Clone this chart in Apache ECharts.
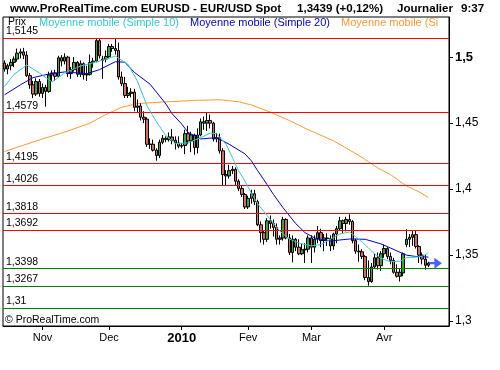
<!DOCTYPE html>
<html><head><meta charset="utf-8">
<script src="https://cdn.jsdelivr.net/npm/echarts@6/dist/echarts.min.js"></script>
<style>html,body{margin:0;padding:0;background:#fff}#c{width:500px;height:370px}</style>
</head><body><div id="c"></div>
<script>
// ---- categories: trading days (weekdays) Oct 15 2009 .. Apr 29 2010 (last 6 empty) ----
const dates = [];
(function(){ let t = Date.UTC(2009,9,15); const end = Date.UTC(2010,3,29);
  while (t <= end) { const d = new Date(t); const w = d.getUTCDay(); if (w !== 0 && w !== 6) dates.push(d.toISOString().slice(0,10)); t += 86400000; } })();

const tickDates  = ['2009-11-02','2009-12-01','2010-01-01','2010-02-01','2010-03-01','2010-04-01'];
const tickLabels = ['Nov','Dec','2010','Fev','Mar','Avr'];
const yTicks = [1.3, 1.35, 1.4, 1.45, 1.5];

// ---- OHLC ----
const opens = [
1.4955,1.4910,1.4935,1.4960,1.4985,1.5030,1.5040,1.5015,1.4860,1.4790,
1.4720,1.4815,1.4725,1.4770,1.4740,1.4865,1.4880,1.4855,1.4995,1.4970,
1.5000,1.4875,1.4905,1.4960,1.4870,1.4950,1.4865,1.4870,1.4960,1.4970,
1.5125,1.4975,1.4985,1.5005,1.5080,1.5065,1.5050,1.4850,1.4800,1.4710,
1.4725,1.4735,1.4620,1.4630,1.4545,1.4530,1.4340,1.4340,1.4295,1.4255,
1.4355,1.4385,1.4375,1.4395,1.4370,1.4350,1.4325,1.4330,1.4420,1.4365,
1.4410,1.4315,1.4410,1.4510,1.4500,1.4520,1.4500,1.4380,1.4390,1.4290,
1.4110,1.4100,1.4140,1.4150,1.4060,1.4005,1.3960,1.3865,1.3930,1.3965,
1.3905,1.3730,1.3670,1.3620,1.3760,1.3740,1.3710,1.3620,1.3630,1.3770,
1.3630,1.3520,1.3620,1.3560,1.3510,1.3540,1.3545,1.3630,1.3560,1.3620,
1.3670,1.3610,1.3630,1.3625,1.3570,1.3660,1.3700,1.3760,1.3740,1.3770,
1.3755,1.3610,1.3530,1.3525,1.3490,1.3330,1.3300,1.3410,1.3480,1.3420,
1.3510,1.3550,1.3490,1.3460,1.3370,1.3340,1.3365,1.3580,1.3620,1.3635,
1.3655,1.3565,1.3500,1.3470,1.3423];
const closes = [
1.4910,1.4935,1.4960,1.4985,1.5030,1.5040,1.5015,1.4860,1.4790,1.4720,
1.4815,1.4725,1.4770,1.4740,1.4865,1.4880,1.4855,1.4995,1.4970,1.5000,
1.4875,1.4905,1.4960,1.4870,1.4950,1.4865,1.4870,1.4960,1.4970,1.5125,
1.5010,1.4985,1.5005,1.5080,1.5065,1.5050,1.4850,1.4800,1.4710,1.4725,
1.4735,1.4620,1.4630,1.4545,1.4530,1.4340,1.4340,1.4295,1.4255,1.4355,
1.4385,1.4375,1.4395,1.4370,1.4350,1.4325,1.4330,1.4420,1.4365,1.4410,
1.4315,1.4410,1.4510,1.4500,1.4520,1.4500,1.4380,1.4390,1.4290,1.4110,
1.4100,1.4140,1.4150,1.4060,1.4005,1.3960,1.3865,1.3930,1.3965,1.3905,
1.3730,1.3670,1.3620,1.3760,1.3740,1.3710,1.3620,1.3630,1.3770,1.3630,
1.3520,1.3620,1.3560,1.3510,1.3540,1.3545,1.3630,1.3560,1.3620,1.3670,
1.3610,1.3630,1.3625,1.3570,1.3660,1.3700,1.3760,1.3740,1.3770,1.3755,
1.3610,1.3530,1.3525,1.3490,1.3330,1.3300,1.3410,1.3480,1.3420,1.3510,
1.3550,1.3490,1.3460,1.3370,1.3340,1.3370,1.3510,1.3620,1.3635,1.3655,
1.3565,1.3500,1.3470,1.3423,1.3439];
const lows = [
1.4890,1.4870,1.4900,1.4925,1.4965,1.4990,1.4985,1.4850,1.4760,1.4690,
1.4705,1.4700,1.4690,1.4625,1.4730,1.4815,1.4820,1.4850,1.4930,1.4945,
1.4850,1.4835,1.4890,1.4850,1.4850,1.4830,1.4820,1.4860,1.4920,1.4960,
1.4990,1.4835,1.4960,1.4990,1.5040,1.5020,1.4830,1.4780,1.4690,1.4690,
1.4695,1.4590,1.4580,1.4520,1.4500,1.4320,1.4305,1.4285,1.4215,1.4235,
1.4340,1.4355,1.4360,1.4340,1.4300,1.4310,1.4310,1.4265,1.4340,1.4280,
1.4260,1.4270,1.4400,1.4450,1.4440,1.4460,1.4360,1.4355,1.4270,1.4025,
1.4030,1.4080,1.4115,1.4030,1.3985,1.3940,1.3850,1.3850,1.3890,1.3880,
1.3720,1.3595,1.3580,1.3600,1.3700,1.3640,1.3580,1.3580,1.3610,1.3620,
1.3500,1.3445,1.3530,1.3500,1.3500,1.3440,1.3520,1.3440,1.3520,1.3590,
1.3560,1.3530,1.3570,1.3530,1.3540,1.3590,1.3690,1.3660,1.3680,1.3730,
1.3590,1.3510,1.3450,1.3470,1.3310,1.3268,1.3290,1.3400,1.3390,1.3380,
1.3480,1.3470,1.3430,1.3360,1.3330,1.3300,1.3340,1.3560,1.3560,1.3570,
1.3550,1.3440,1.3430,1.3390,1.3410];
const highs = [
1.4975,1.4950,1.4985,1.5005,1.5065,1.5065,1.5070,1.5045,1.4880,1.4820,
1.4840,1.4835,1.4800,1.4790,1.4890,1.4900,1.4905,1.5010,1.5015,1.5030,
1.5010,1.4925,1.5000,1.4970,1.4975,1.4960,1.4935,1.5020,1.4995,1.5145,
1.5140,1.5010,1.5050,1.5100,1.5100,1.5145,1.5110,1.4890,1.4850,1.4775,
1.4765,1.4760,1.4680,1.4650,1.4590,1.4545,1.4385,1.4375,1.4310,1.4375,
1.4410,1.4400,1.4430,1.4455,1.4400,1.4400,1.4350,1.4450,1.4480,1.4435,
1.4420,1.4460,1.4535,1.4550,1.4580,1.4565,1.4510,1.4425,1.4420,1.4310,
1.4145,1.4185,1.4175,1.4165,1.4075,1.4030,1.3970,1.3950,1.3995,1.3995,
1.3920,1.3755,1.3690,1.3780,1.3800,1.3770,1.3740,1.3650,1.3790,1.3780,
1.3660,1.3650,1.3630,1.3620,1.3590,1.3590,1.3650,1.3650,1.3650,1.3720,
1.3700,1.3660,1.3665,1.3650,1.3670,1.3720,1.3790,1.3770,1.3790,1.3810,
1.3765,1.3625,1.3580,1.3545,1.3500,1.3460,1.3440,1.3510,1.3520,1.3530,
1.3580,1.3560,1.3520,1.3480,1.3430,1.3400,1.3520,1.3695,1.3660,1.3690,
1.3690,1.3575,1.3520,1.3500,1.3450];

// ---- moving averages: [category index, value] ----
const ma10 = [[0,1.4778],[3,1.487],[7,1.4940],[11,1.4880],[15,1.4812],[19,1.4880],[24,1.4932],[30,1.4970],[35,1.5008],[39,1.4945],[42,1.4818],[45,1.4632],[48,1.4510],[51,1.4405],[54,1.4345],[58,1.4350],[62,1.4390],[65,1.4425],[67,1.4420],[70,1.4340],[72,1.4240],[74,1.4140],[76,1.4060],[78,1.3970],[80,1.3890],[84,1.3770],[87,1.3683],[90,1.3622],[93,1.3592],[97,1.3570],[100,1.3580],[103,1.3620],[106,1.3660],[109,1.3675],[111,1.3640],[113,1.3600],[115,1.3554],[117,1.3510],[119,1.3475],[122,1.3450],[125,1.3454],[127,1.3480],[130,1.3485],[132,1.3490],[134,1.3517]];
const ma20 = [[0,1.4715],[5,1.4790],[9,1.4845],[14,1.4872],[19,1.4888],[26,1.4875],[30,1.4905],[35,1.4965],[38,1.4962],[41,1.4885],[46,1.4795],[51,1.4645],[53,1.4570],[56,1.4493],[58,1.4430],[62,1.4380],[67,1.4390],[71,1.4340],[76,1.4267],[78,1.4215],[80,1.4140],[82,1.4070],[85,1.3960],[88,1.3860],[92,1.3740],[95,1.3670],[98,1.3630],[103,1.3607],[109,1.3622],[114,1.3620],[119,1.3585],[122,1.3554],[127,1.3500],[130,1.3490],[134,1.3485]];
const ma100 = [[0,1.4285],[10,1.4365],[20,1.4440],[27,1.4500],[32,1.4565],[37,1.4620],[42,1.4648],[50,1.4660],[60,1.4672],[68,1.4677],[74,1.4662],[78,1.4638],[84,1.4583],[90,1.4520],[96,1.4450],[104,1.4366],[112,1.4255],[118,1.4160],[122,1.4110],[127,1.4025],[131,1.3980],[134,1.3936]];

const redLevels = [1.5145, 1.4579, 1.4195, 1.4026, 1.3818, 1.3692];
const greenLevels = [1.3398, 1.3267, 1.31];
const lastPrice = 1.3439;

const fmt = v => String(v).replace('.', ',');
const candles = opens.map((o, i) => [o, closes[i], lows[i], highs[i]]);
const isTick = (idx, val) => tickDates.indexOf(val) >= 0;

const chart = echarts.init(document.getElementById('c'), null, {renderer: 'canvas'});
const F = 'Arial, "Liberation Sans", sans-serif';
const levelData = redLevels.map(v => ({yAxis: v, lab: v, lineStyle: {color: '#ff0000'}}))
  .concat(greenLevels.map(v => ({yAxis: v, lab: v, lineStyle: {color: '#008000'}})));

chart.setOption({
  animation: false,
  backgroundColor: '#fff',
  grid: {left: 3, top: 17, right: 51, bottom: 44, show: true, borderColor: '#000', borderWidth: 1, backgroundColor: '#fff'},
  xAxis: {
    type: 'category', data: dates, boundaryGap: true,
    axisLine: {show: true, lineStyle: {color: '#000', width: 1}},
    axisTick: {show: true, interval: isTick, alignWithLabel: true, length: 4, lineStyle: {color: '#000'}},
    axisLabel: {interval: isTick, margin: 6, color: '#000', fontFamily: F, fontSize: 11,
      formatter: v => { const k = tickDates.indexOf(v); const s = tickLabels[k]; return s === '2010' ? '{b|' + s + '}' : s; },
      rich: {b: {fontWeight: 'bold', fontSize: 13, fontFamily: F, color: '#000'}}},
    splitLine: {show: false}
  },
  yAxis: {
    type: 'value', position: 'right', min: 1.2963, max: 1.5304, scale: true,
    axisLine: {show: true, lineStyle: {color: '#000', width: 1}},
    axisTick: {show: true, length: 4, customValues: yTicks, lineStyle: {color: '#000'}},
    axisLabel: {customValues: yTicks, margin: 6, color: '#000', fontFamily: F, fontSize: 12,
      formatter: v => { const s = fmt(+(+v).toFixed(2)); return Math.abs(v - 1.5) < 1e-9 ? '{b|' + s + '}' : s; },
      rich: {b: {fontWeight: 'bold', fontSize: 13, fontFamily: F, color: '#000'}}},
    splitLine: {show: false}
  },
  series: [
    {type: 'line', name: 'levels', data: [], z: 1, silent: true,
     markLine: {silent: true, symbol: 'none', animation: false, precision: 4,
       lineStyle: {type: 'solid', width: 1},
       label: {show: true, position: 'insideStartTop', distance: [3, 1], color: '#000', fontFamily: F, fontSize: 10.5,
         formatter: p => fmt(p.data && p.data.lab != null ? p.data.lab : p.value)},
       emphasis: {disabled: true},
       data: levelData}},
    {type: 'line', name: 'MM100', data: ma100, showSymbol: false, symbol: 'none', z: 3,
     lineStyle: {color: '#ff9933', width: 1}},
    {type: 'candlestick', name: 'Prix', data: candles, barWidth: 3, z: 4,
     itemStyle: {color: '#36a836', color0: '#d96b63', borderColor: '#000', borderColor0: '#000', borderWidth: 1}},
    {type: 'line', name: 'MM20', data: ma20, showSymbol: false, symbol: 'none', z: 5,
     lineStyle: {color: '#0000cc', width: 1}},
    {type: 'line', name: 'MM10', data: ma10, showSymbol: false, symbol: 'none', z: 5,
     lineStyle: {color: '#33cccc', width: 1}},
    {type: 'scatter', name: 'last', data: [[closes.length - 1, lastPrice]], z: 6, silent: true,
     symbol: 'path://M0,4 L5,4 L5,0 L12,5 L5,10 L5,6 L0,6 Z', symbolSize: [13, 11], symbolOffset: [7, 0],
     itemStyle: {color: '#1a3cff'}}
  ],
  graphic: [
    {type: 'text', left: 10, top: 3, style: {text: 'www.ProRealTime.com EURUSD - EUR/USD Spot', font: 'bold 11.6px ' + F, fill: '#000'}},
    {type: 'text', left: 297, top: 3, style: {text: '1,3439 (+0,12%)', font: 'bold 11.6px ' + F, fill: '#000'}},
    {type: 'text', left: 397, top: 3, style: {text: 'Journalier', font: 'bold 11.6px ' + F, fill: '#000'}},
    {type: 'text', left: 461, top: 3, style: {text: '9:37', font: 'bold 11.6px ' + F, fill: '#000'}},
    {type: 'text', left: 8, top: 17, z: 10, style: {text: 'Prix', font: '10.5px ' + F, fill: '#000'}},
    {type: 'text', left: 39, top: 17, z: 10, style: {text: 'Moyenne mobile (Simple 10)', font: '11px ' + F, fill: '#33cccc'}},
    {type: 'text', left: 190, top: 17, z: 10, style: {text: 'Moyenne mobile (Simple 20)', font: '11px ' + F, fill: '#0000cc'}},
    {type: 'text', left: 341, top: 17, z: 10, style: {text: 'Moyenne mobile (Simple 100)', font: '11px ' + F, fill: '#ff9933', width: 107, overflow: 'truncate', ellipsis: ''}},
    {type: 'text', left: 5, top: 315, z: 10, style: {text: '© ProRealTime.com', font: '10.5px ' + F, fill: '#000'}}
  ]
});
</script></body></html>
